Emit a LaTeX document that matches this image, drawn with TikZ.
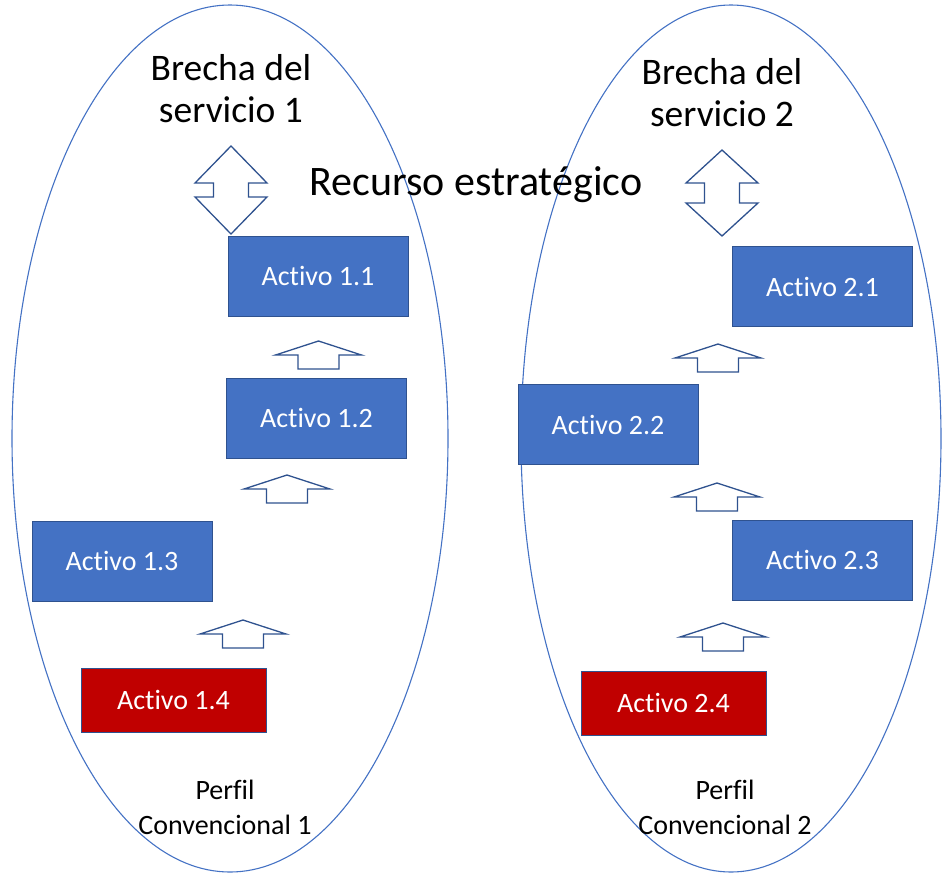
\documentclass[tikz,border=0pt]{standalone}
\usepackage{fontspec}
\setmainfont{Carlito}[Ligatures={NoCommon}]
\definecolor{boxblue}{HTML}{4472C4}
\definecolor{boxedge}{HTML}{2F528F}
\definecolor{boxred}{HTML}{C00000}
\definecolor{linecol}{HTML}{4472C4}
\tikzset{
  asset/.style={draw=boxedge, line width=0.9pt, fill=boxblue, text=white,
    minimum width=180pt, minimum height=80pt, inner sep=0pt,
    font=\fontsize{28}{34}\selectfont},
  assetred/.style={asset, fill=boxred, minimum width=185pt, minimum height=64pt},
  oval/.style={draw=linecol, line width=1.1pt},
  blockarrow/.style={draw=boxedge, line width=1.3pt, fill=white, line join=miter},
  bigtxt/.style={font=\fontsize{37.5}{42}\selectfont, align=center, inner sep=0pt},
  rectxt/.style={font=\fontsize{42}{50}\selectfont, inner sep=0pt},
  smalltxt/.style={font=\fontsize{28}{35}\selectfont, align=center, inner sep=0pt},
  pics/uparrow/.style={code={
    \draw[blockarrow] (0,0) -- (43,14) -- (20.5,14) -- (20.5,28) -- (-20.5,28)
      -- (-20.5,14) -- (-43,14) -- cycle;}},
  pics/dblarrow/.style args={#1/#2}{code={
    \draw[blockarrow] (0,0) -- (36,#1) -- (17.5,#1) -- (17.5,#2) -- (36,#2)
      -- (0,#2+#1) -- (-36,#2) -- (-17.5,#2) -- (-17.5,#1) -- (-36,#1) -- cycle;}}
}
\begin{document}
\begin{tikzpicture}[x=1pt,y=-1pt]
\useasboundingbox (0,0) rectangle (942,873);
% ovals
\draw[oval] (230,438.5) ellipse [x radius=218, y radius=433.5];
\draw[oval] (731,438.5) ellipse [x radius=210, y radius=433.5];
% titles
\node[bigtxt] (t1) at (231,89) {Brecha del\\servicio 1};
\node[bigtxt] (t2) at (722,93) {Brecha del\\servicio 2};
\node[rectxt] (rec) at (476,185) {Recurso estratégico};
% assets column 1
\node[asset] (a11) at (318,276) {Activo 1.1};
\node[asset] (a12) at (316.5,418) {Activo 1.2};
\node[asset] (a13) at (122,561) {Activo 1.3};
\node[assetred] (a14) at (173.5,700) {Activo 1.4};
% assets column 2
\node[asset] (a21) at (822.5,286.5) {Activo 2.1};
\node[asset] (a22) at (608,424.5) {Activo 2.2};
\node[asset] (a23) at (822.5,560) {Activo 2.3};
\node[assetred] (a24) at (673.5,703) {Activo 2.4};
% profiles
\node[smalltxt] (p1) at (225,807) {Perfil\\Convencional 1};
\node[smalltxt] (p2) at (725,807) {Perfil\\Convencional 2};
% arrows
\pic at (231,146) {dblarrow={37/51}};
\pic at (722,150) {dblarrow={33/53}};
\pic at (318.5,341) {uparrow};
\pic at (287,475) {uparrow};
\pic at (243,620) {uparrow};
\pic at (718,344) {uparrow};
\pic at (717,483) {uparrow};
\pic at (723,623) {uparrow};
\end{tikzpicture}
\end{document}
